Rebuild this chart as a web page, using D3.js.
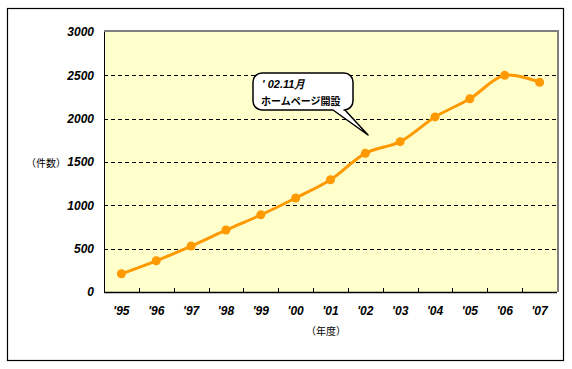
<!DOCTYPE html>
<html><head><meta charset="utf-8">
<script src="https://cdn.jsdelivr.net/npm/d3@7"></script>
<style>body{margin:0;background:#fff}svg{display:block}</style>
</head><body>
<svg id="c" width="572" height="369"></svg>
<script>
const years = ["'95","'96","'97","'98","'99","'00","'01","'02","'03","'04","'05","'06","'07"];
const counts = [210, 360, 530, 715, 890, 1085, 1295, 1600, 1735, 2020, 2230, 2500, 2420];
const yTicks = [0, 500, 1000, 1500, 2000, 2500, 3000];
const yTitle = "（件数）";
const xTitle = "（年度）";
const noteLines = ["' 02.11月", "ホームページ開設"];

const svg = d3.select("#c");
const L = 104, R = 557, T = 32, B = 292;
svg.append("rect").attr("x", 7.5).attr("y", 8.5).attr("width", 556).attr("height", 352)
  .attr("fill", "#fff").attr("stroke", "#000").attr("stroke-width", 1.2);

const x = d3.scaleBand().domain(years).range([L, R]);
const y = d3.scaleLinear().domain([0, 3000]).range([B, T]);

// plot background with gray shadow top/right
svg.append("rect").attr("x", L).attr("y", T - 2).attr("width", R - L + 2).attr("height", B - T + 2).attr("fill", "#808080");
svg.append("rect").attr("x", L).attr("y", T).attr("width", R - L).attr("height", B - T).attr("fill", "#FFFFCC");

// gridlines
svg.append("g").selectAll("line").data(yTicks.filter(d => d > 0 && d < 3000)).join("line")
  .attr("x1", L).attr("x2", R).attr("y1", d => Math.round(y(d)) + 0.5).attr("y2", d => Math.round(y(d)) + 0.5)
  .attr("stroke", "#000").attr("stroke-width", 1).attr("stroke-dasharray", "4,3");

// left axis line
svg.append("line").attr("x1", L + 0.5).attr("x2", L + 0.5).attr("y1", T).attr("y2", B).attr("stroke", "#000");
// y tick labels
const yAx = d3.axisLeft(y).tickValues(yTicks).tickFormat(d3.format("d")).tickSize(0).tickPadding(10);
const gy = svg.append("g").attr("transform", `translate(${L},0)`).call(yAx);
gy.select(".domain").remove();
gy.selectAll("text").attr("font-family", "'Liberation Sans', Arial, sans-serif").attr("font-size", 12)
  .attr("font-weight", "bold").attr("font-style", "italic").attr("fill", "#000");

// x axis: ticks at band boundaries pointing up
svg.append("line").attr("x1", L).attr("x2", R).attr("y1", B + 0.5).attr("y2", B + 0.5).attr("stroke", "#000").attr("stroke-width", 1.5);
svg.append("g").selectAll("line").data(years.slice(1)).join("line")
  .attr("x1", d => Math.round(x(d)) + 0.5).attr("x2", d => Math.round(x(d)) + 0.5)
  .attr("y1", B).attr("y2", B - 4).attr("stroke", "#000");
const xAx = d3.axisBottom(x).tickSize(0).tickPadding(14);
const gx = svg.append("g").attr("transform", `translate(0,${B})`).call(xAx);
gx.select(".domain").remove();
gx.selectAll("text").attr("font-family", "'Liberation Sans', Arial, sans-serif").attr("font-size", 12)
  .attr("font-weight", "bold").attr("font-style", "italic").attr("fill", "#000");

// axis titles
svg.append("text").attr("x", 46).attr("y", 167).attr("text-anchor", "middle")
  .attr("font-family", "'Noto Sans CJK JP', sans-serif").attr("font-size", 10).text(yTitle);
svg.append("text").attr("x", 326).attr("y", 335).attr("text-anchor", "middle")
  .attr("font-family", "'Noto Sans CJK JP', sans-serif").attr("font-size", 10).text(xTitle);

// line
const cx = d => x(d) + x.bandwidth() / 2;
const line = d3.line().x((d, i) => cx(years[i])).y(d => y(d)).curve(d3.curveCatmullRom.alpha(0.5));
svg.append("path").datum(counts).attr("d", line).attr("fill", "none")
  .attr("stroke", "#FF9900").attr("stroke-width", 3);
svg.append("g").selectAll("circle").data(counts).join("circle")
  .attr("cx", (d, i) => cx(years[i])).attr("cy", d => y(d)).attr("r", 4.5).attr("fill", "#FF9900");

// callout
const bx = 253, by = 73, bw = 100, bh = 37, r = 9;
const tipX = 368, tipY = 135, t1 = 333, t2 = 345;
const p = d3.path();
p.moveTo(bx + r, by);
p.lineTo(bx + bw - r, by);
p.arcTo(bx + bw, by, bx + bw, by + r, r);
p.lineTo(bx + bw, by + bh - r);
p.arcTo(bx + bw, by + bh, bx + bw - r, by + bh, r);
p.lineTo(t2, by + bh);
p.lineTo(tipX, tipY);
p.lineTo(t1, by + bh);
p.lineTo(bx + r, by + bh);
p.arcTo(bx, by + bh, bx, by + bh - r, r);
p.lineTo(bx, by + r);
p.arcTo(bx, by, bx + r, by, r);
p.closePath();
svg.append("path").attr("d", p.toString()).attr("fill", "#fff").attr("stroke", "#000").attr("stroke-width", 1.5)
  .attr("stroke-linejoin", "round");
svg.append("text").attr("x", 262).attr("y", 88).attr("font-family", "'Liberation Sans', Arial, sans-serif")
  .attr("font-size", 11).attr("font-weight", "bold").attr("font-style", "italic").text(noteLines[0]);
svg.append("text").attr("x", 261).attr("y", 105).attr("font-family", "'Noto Sans CJK JP', sans-serif")
  .attr("font-size", 10).attr("font-weight", "bold").text(noteLines[1]);
</script>
</body></html>
